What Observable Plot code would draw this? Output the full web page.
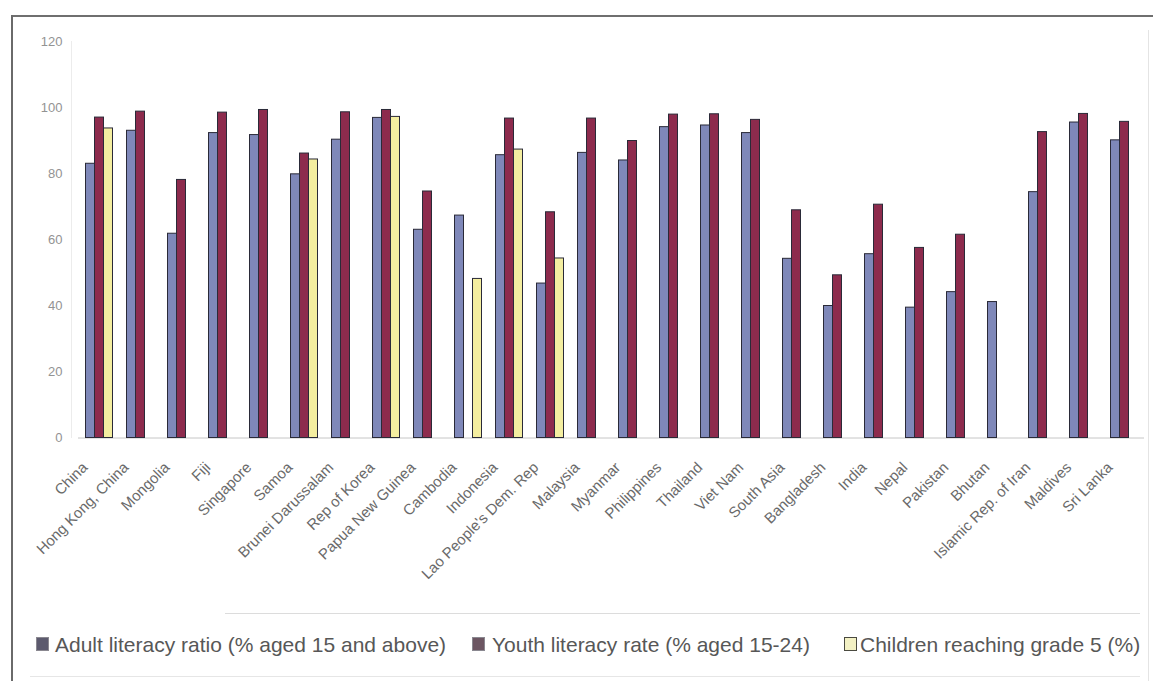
<!DOCTYPE html>
<html>
<head>
<meta charset="utf-8">
<script src="https://cdn.jsdelivr.net/npm/d3@7"></script>
<script src="https://cdn.jsdelivr.net/npm/@observablehq/plot@0.6"></script>
<style>
  html, body { margin: 0; padding: 0; background: #fff; }
  #wrap { position: relative; width: 1153px; height: 681px; overflow: hidden; background: #fff;
          font-family: "Liberation Sans", Arial, sans-serif; }
  .line { position: absolute; }
  #chart { position: absolute; left: 0; top: 0; }
  #legend { position: absolute; left: 0; top: 633px; height: 24px; width: 1153px;
            font-size: 21px; line-height: 24px; color: #575757; white-space: nowrap; }
  .sw { position: absolute; top: 4px; width: 13px; height: 14px; box-sizing: border-box; }
  .lbl { position: absolute; top: 0; }
</style>
</head>
<body>
<div id="wrap">
  <div class="line" style="left:12px;top:15px;width:1141px;height:2px;background:#6f6f6f"></div>
  <div class="line" style="left:11px;top:15px;width:2px;height:666px;background:#6a6a6a"></div>
  <div class="line" style="left:1148px;top:30px;width:1px;height:651px;background:#e4e4e4"></div>
  <div class="line" style="left:225px;top:613px;width:915px;height:1px;background:#dcdcdc"></div>
  <div class="line" style="left:30px;top:676px;width:1110px;height:1px;background:#e6e6e6"></div>
  <div class="line" style="left:71px;top:41px;width:1px;height:397px;background:#ececec"></div>
  <div id="chart"></div>
  <div id="legend"></div>
</div>
<script>
// Literacy indicators by country / region (percent)
const countries = [
  "China", "Hong Kong, China", "Mongolia", "Fiji", "Singapore", "Samoa",
  "Brunei Darussalam", "Rep of Korea", "Papua New Guinea", "Cambodia",
  "Indonesia", "Lao People's Dem. Rep", "Malaysia", "Myanmar", "Philippines",
  "Thailand", "Viet Nam", "South Asia", "Bangladesh", "India", "Nepal",
  "Pakistan", "Bhutan", "Islamic Rep. of Iran", "Maldives", "Sri Lanka"
];

const seriesNames = [
  "Adult literacy ratio (% aged 15 and above)",
  "Youth literacy rate (% aged 15-24)",
  "Children reaching grade 5 (%)"
];

const adultLiteracy = [
  83.1, 93.1, 61.9, 92.4, 91.8, 79.9, 90.4, 97.0, 63.1, 67.4,
  85.7, 46.8, 86.4, 84.1, 94.2, 94.7, 92.4, 54.3, 40.0, 55.7,
  39.5, 44.2, 41.2, 74.5, 95.6, 90.2
];

const youthLiteracy = [
  97.1, 98.9, 78.2, 98.6, 99.4, 86.2, 98.7, 99.4, 74.7, null,
  96.8, 68.4, 96.8, 90.0, 98.0, 98.1, 96.4, 69.0, 49.3, 70.7,
  57.6, 61.6, null, 92.7, 98.2, 95.8
];

const childrenGrade5 = [
  93.8, null, null, null, null, 84.4, null, 97.3, null, 48.2,
  87.4, 54.4, null, null, null, null, null, null, null, null,
  null, null, null, null, null, null
];

const yTicks = [0, 20, 40, 60, 80, 100, 120];

const barColors = ["#7f88b9", "#8d2b4d", "#f4eea0"];
const swatchColors = ["#5c5a6e", "#6c5662", "#f3f1c4"];

// Long-format rows; missing values are left out so their slot stays empty
const rows = [];
[adultLiteracy, youthLiteracy, childrenGrade5].forEach((values, s) => {
  values.forEach((v, i) => {
    if (v != null) rows.push({country: countries[i], series: seriesNames[s], value: v});
  });
});

const chart = Plot.plot({
  width: 1153,
  height: 612,
  marginTop: 41.5,
  marginBottom: 174.5,
  marginLeft: 71.5,
  marginRight: 2.5,
  style: {fontFamily: "'Liberation Sans', Arial, sans-serif", background: "transparent"},
  fx: {domain: countries, padding: 0, label: null},
  x: {domain: seriesNames, paddingInner: 0, paddingOuter: 0.575, axis: null},
  y: {domain: [0, 120], label: null},
  color: {domain: seriesNames, range: barColors},
  marks: [
    Plot.ruleY([0], {stroke: "#c6c6c6"}),
    Plot.barY(rows, {
      fx: "country", x: "series", y: "value", fill: "series",
      stroke: "#2a2a38", strokeWidth: 1
    }),
    Plot.axisY({ticks: yTicks, tickSize: 0, tickPadding: 16, fontSize: 13, fill: "#939393", label: null}),
    Plot.axisFx({anchor: "bottom", tickRotate: -45, tickSize: 0, tickPadding: 14, dx: -14, dy: 13,
                 fontSize: 15, fill: "#6a6a6a", label: null})
  ]
});
document.getElementById("chart").appendChild(chart);

// Legend below the plot
const legendPos = [{sw: 36, tx: 55}, {sw: 472, tx: 492}, {sw: 844, tx: 860}];
const legend = document.getElementById("legend");
seriesNames.forEach((name, i) => {
  const sw = document.createElement("div");
  sw.className = "sw";
  sw.style.left = legendPos[i].sw + "px";
  sw.style.background = swatchColors[i];
  sw.style.border = i === 2 ? "1.5px solid #4a4a40" : "1px solid #8a8890";
  legend.appendChild(sw);
  const tx = document.createElement("div");
  tx.className = "lbl";
  tx.style.left = legendPos[i].tx + "px";
  tx.textContent = name;
  legend.appendChild(tx);
});
</script>
</body>
</html>
